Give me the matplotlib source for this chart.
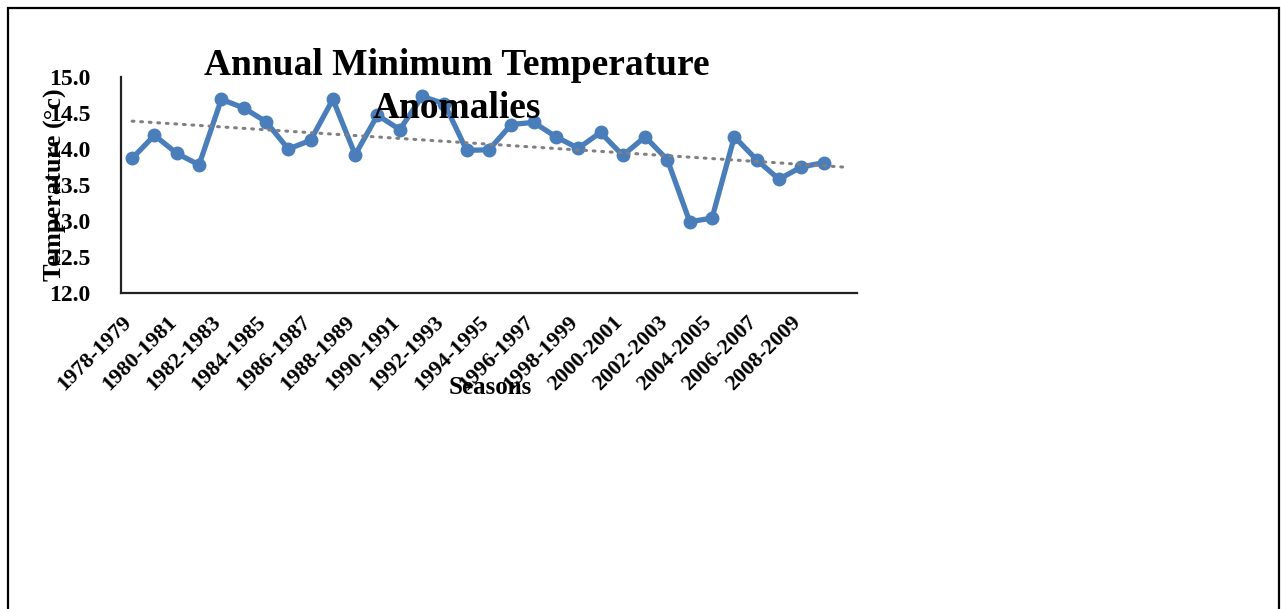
import numpy as np
import matplotlib.pyplot as plt
import matplotlib.transforms as mtransforms
from matplotlib.patches import Rectangle

plt.rcParams['font.family'] = ['Liberation Serif', 'DejaVu Serif']
plt.rcParams['font.weight'] = 'bold'

# seasons 1978-1979 .. 2010-2011, the last one has no reading
seasons = ['%d-%d' % (y, y + 1) for y in range(1978, 2011)]
tick_labels = [s if i % 2 == 0 and i < 32 else '' for i, s in enumerate(seasons)]
temps = [13.87, 14.19, 13.94, 13.78, 14.69, 14.57, 14.38, 14.00, 14.12, 14.69,
         13.92, 14.47, 14.27, 14.73, 14.63, 13.98, 13.99, 14.34, 14.37, 14.17,
         14.01, 14.23, 13.91, 14.17, 13.85, 12.99, 13.04, 14.17, 13.85, 13.58,
         13.75, 13.81]

x = np.arange(len(temps))
slope, icept = np.polyfit(x, temps, 1)
xt = np.arange(len(seasons))

fig = plt.figure(figsize=(12.81, 6.09), dpi=100)
ax = fig.add_axes([121 / 1281, 1 - 293 / 609, 736 / 1281, 216 / 609])

ax.plot(xt, slope * xt + icept, color='#808080', lw=2.2, ls=(0, (0.6, 2.2)),
        dash_capstyle='round', zorder=3)
ax.plot(x, temps, color='#4A7EBB', lw=3.8, marker='o', ms=9, zorder=2)

ax.set_xlim(-0.5, len(seasons) - 0.5)
ax.set_ylim(12.0, 15.0)
ax.set_yticks(np.arange(12.0, 15.01, 0.5))
ax.set_yticklabels(['%.1f' % v for v in np.arange(12.0, 15.01, 0.5)],
                   fontsize=17, fontweight='bold')
ax.set_xticks(xt)
ax.set_xticklabels(tick_labels, rotation=45, ha='right', va='top',
                   fontsize=16, fontweight='bold')
ax.tick_params(axis='y', length=0, pad=22)
ax.tick_params(axis='x', length=0, pad=14)

# nudge the slanted labels so they end under their category
shift = mtransforms.ScaledTranslation(4 / 100, 0, fig.dpi_scale_trans)
for lbl in ax.get_xticklabels():
    lbl.set_transform(lbl.get_transform() + shift)

for side in ['top', 'right']:
    ax.spines[side].set_visible(False)
for side in ['left', 'bottom']:
    ax.spines[side].set_color('#222222')
    ax.spines[side].set_linewidth(1.6)

fig.text(457 / 1281, 1 - 87 / 609, 'Annual Minimum Temperature\nAnomalies',
         ha='center', va='center', fontsize=27, fontweight='bold',
         linespacing=1.3)
fig.text(55 / 1281, 1 - 185 / 609, 'Temperature (°c)', rotation=90,
         ha='center', va='center', fontsize=19, fontweight='bold')
fig.text(490 / 1281, 1 - 388 / 609, 'Seasons', ha='center', va='center',
         fontsize=18, fontweight='bold')

fig.patches.append(Rectangle((8 / 1281, -0.05), 1271 / 1281, 1.05 - 8 / 609,
                             transform=fig.transFigure, fill=False,
                             edgecolor='black', lw=1.6))

fig.savefig('out.png', dpi=100)
